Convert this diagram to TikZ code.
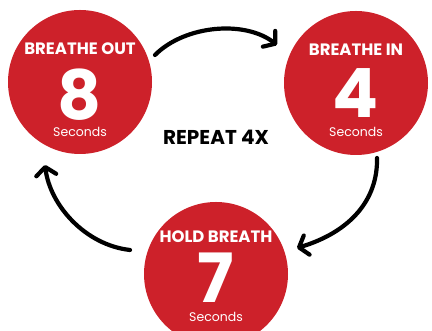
\documentclass[tikz,border=0pt]{standalone}
\usepackage{fontspec}
\setmainfont{Poppins}
\usetikzlibrary{arrows.meta}
\definecolor{cred}{RGB}{205,33,42}
\tikzset{
  disc/.style={circle, fill=cred, minimum size=144pt, inner sep=0pt},
  head/.style={text=white, font=\fontsize{16.5}{16.5}\selectfont\bfseries, anchor=base, inner sep=0pt},
  big/.style={text=white, font=\fontsize{68}{68}\selectfont\bfseries, anchor=base, inner sep=0pt},
  secs/.style={text=white, font=\fontsize{12.5}{12.5}\selectfont, anchor=base, inner sep=0pt},
  loop/.style={line width=4.2pt, line cap=round, line join=round,
    -{Straight Barb[length=8pt,width=20pt,line cap=round,line join=round]}}
}
\begin{document}
\begin{tikzpicture}[x=1pt,y=1pt]
\useasboundingbox (0,0) rectangle (432,331);
\begin{scope}
\clip (0,0) rectangle (432,331);
\node[disc] (bo) at (80,249) {};
\node[disc] (bi) at (356,248) {};
\node[disc] (hb) at (216,57) {};

\node[head] (bot) at (80,276) {BREATHE OUT};
\node[big] (bon) at (80,211) {8};
\node[secs] (bos) at (80,194) {Seconds};

\node[head] (bit) at (356,275) {BREATHE IN};
\node[big] (bin) at (356,213) {4};
\node[secs] (bis) at (356,194) {Seconds};

\node[head] (hbt) at (216,88) {HOLD BREATH};
\node[big] (hbn) at (216,28) {7};
\node[secs] (hbs) at (216,9) {Seconds};

\node[anchor=base, font=\fontsize{20}{20}\selectfont\bfseries] (rep) at (216,186) {REPEAT 4X};

\coordinate (t1) at ([shift={(75,27)}]bo.center);
\coordinate (t2) at ([shift={(-79,38)}]bi.center);
\coordinate (r1) at ([shift={(21,-75)}]bi.center);
\coordinate (r2) at ([shift={(81,26)}]hb.center);
\coordinate (l1) at ([shift={(-86,24)}]hb.center);
\coordinate (l2) at ([shift={(-35,-83)}]bo.center);

\draw[loop] (t1) .. controls (185,306) and (245,311) .. (t2);
\draw[loop] (r1) .. controls (378,131) and (350,99) .. (r2);
\draw[loop] (l1) .. controls (85,86) and (50,126) .. (l2);
\end{scope}
\end{tikzpicture}
\end{document}
